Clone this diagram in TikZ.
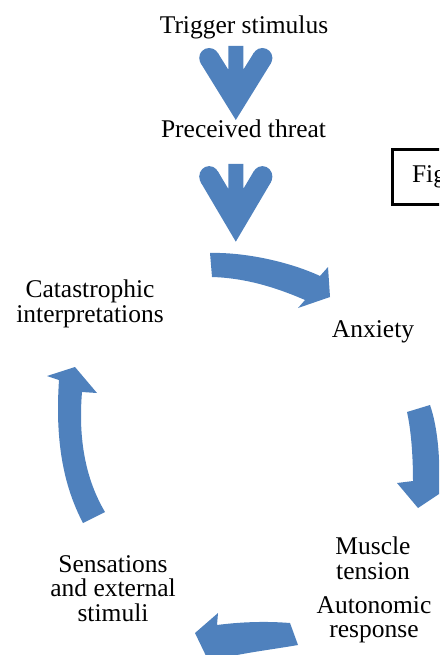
\documentclass[tikz,border=0pt]{standalone}
\usepackage{fontspec}
\setmainfont{Liberation Serif}
\definecolor{arrowblue}{HTML}{4F81BD}
\begin{document}
\begin{tikzpicture}[x=1pt,y=-1pt,
  lbl/.style={font=\fontsize{25.5}{24.5}\selectfont, inner sep=0pt, align=center, anchor=base},
  blockarrow/.style={fill=arrowblue, draw=none},
  downarrow/.pic={
    \fill[blockarrow] (0,74) -- (-35.1,17.3) -- (-18.1,6.7) -- (-7.5,23.7) -- (-7.5,0)
      -- (7.5,0) -- (7.5,23.7) -- (18.1,6.7) -- (35.1,17.3) -- cycle;
    \fill[blockarrow] (-26.6,12) circle[radius=10];
    \fill[blockarrow] (26.6,12) circle[radius=10];
  }]
\useasboundingbox (0,0) rectangle (439,655);
\clip (0,0) rectangle (439,655);

% text nodes (base anchor = baseline of the last line)
\node[lbl] (trigger) at (244,34) {Trigger stimulus};
\node[lbl] (threat) at (243.5,138) {Preceived threat};
\node[lbl] (catas) at (90,322) {Catastrophic\\interpretations};
\node[lbl] (anx) at (373,337) {Anxiety};
\node[lbl] (muscle) at (373,579) {Muscle\\tension};
\node[lbl] (auto) at (374,637.5) {Autonomic\\response};
\node[lbl] (sens) at (113,621) {Sensations\\and external\\stimuli};

% figure box (cut off at the right edge)
\node[draw, line width=3pt, anchor=north west, minimum height=55pt, text width=90pt,
      inner xsep=20pt, align=left, font=\fontsize{25.5}{24.5}\selectfont] (fig) at (390.5,148) {Fig};

% straight down arrows
\pic at (235.8,46) {downarrow};
\pic[yscale=1.05] at (235.8,164) {downarrow};

% curved arrows of the cycle
\fill[blockarrow] (210,253) .. controls (245,252) and (290,262) .. (320,276)
  -- (328,267) -- (330,297) -- (298,308) -- (305,300)
  .. controls (275,287) and (245,278) .. (212,277) -- cycle;
\fill[blockarrow] (430,405) .. controls (437,425) and (440,455) .. (439,478)
  -- (448,488) -- (418,508) -- (397,483) -- (413,481)
  .. controls (413,455) and (411,430) .. (407,412) -- cycle;
\fill[blockarrow] (290,623) .. controls (265,621) and (240,622) .. (217,625)
  -- (218,613) -- (195,633) -- (208,660) -- (222,658)
  .. controls (250,652) and (275,649) .. (298,645) -- cycle;
\fill[blockarrow] (83,523) .. controls (63,485) and (55,440) .. (59,380)
  -- (47,376) -- (75,367) -- (97,393) -- (82,392)
  .. controls (78,440) and (86,480) .. (105,512) -- cycle;
\end{tikzpicture}
\end{document}
